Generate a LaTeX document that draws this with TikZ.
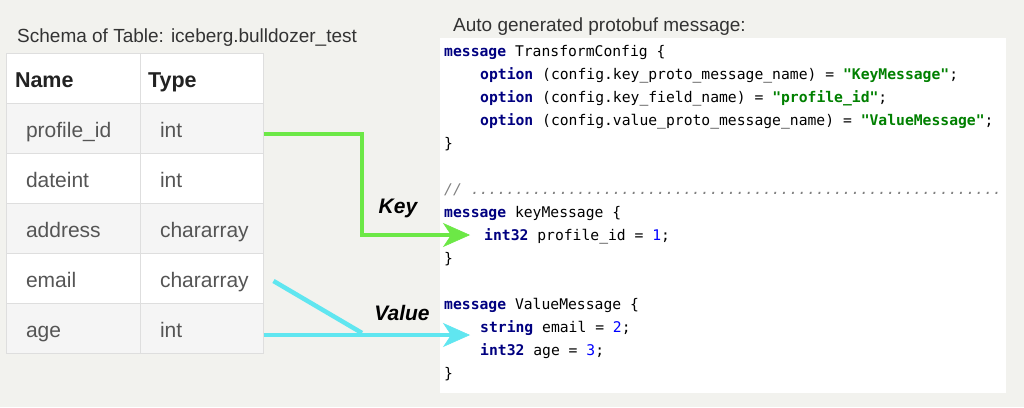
\documentclass[tikz,border=0pt]{standalone}
\usepackage{fontspec}
\setmainfont{Liberation Sans}
\newfontfamily\codefont{DejaVu Sans Mono}
\usetikzlibrary{arrows.meta}
\definecolor{pageBg}{RGB}{242,242,238}
\definecolor{gridGrey}{RGB}{222,222,222}
\definecolor{rowGrey}{RGB}{245,245,245}
\definecolor{cellText}{RGB}{85,85,85}
\definecolor{headText}{RGB}{34,34,34}
\definecolor{titleText}{RGB}{51,51,51}
\definecolor{keyGreen}{RGB}{108,232,70}
\definecolor{valueCyan}{RGB}{96,230,240}
\definecolor{kwBlue}{RGB}{0,0,128}
\definecolor{strGreen}{RGB}{0,128,0}
\definecolor{numBlue}{RGB}{0,0,255}
\definecolor{cmtGrey}{RGB}{128,128,128}
\newcommand\kw[1]{\textcolor{kwBlue}{\bfseries #1}}
\newcommand\str[1]{\textcolor{strGreen}{\bfseries #1}}
\newcommand\num[1]{\textcolor{numBlue}{#1}}

\begin{document}
\begin{tikzpicture}
[x=1pt,y=-1pt,
  cellBox/.style={shape=rectangle,draw=gridGrey,line width=1pt,minimum height=50pt,
    inner ysep=0pt,text height=20pt,text depth=2pt,align=left},
  headDecorate/.style={font=\fontsize{21.5}{25}\selectfont\bfseries,text=headText},
  bodyDecorate/.style={font=\fontsize{21}{25}\selectfont,text=cellText},
  titleDecorate/.style={anchor=base west,inner sep=0pt,font=\fontsize{19}{23}\selectfont,text=titleText},
  codeDecorate/.style={anchor=base west,inner sep=0pt,font=\fontsize{14.7}{17}\selectfont\codefont},
  labelDecorate/.style={inner sep=0pt,font=\fontsize{21}{25}\selectfont\bfseries\itshape},
  keyArrow/.style={draw=keyGreen,line width=4.5pt,
    -{Stealth[length=27pt,width=24pt,inset=8pt,line width=0.5pt]}},
  valueArrow/.style={draw=valueCyan,line width=4.5pt,
    -{Stealth[length=27pt,width=24pt,inset=8pt,line width=0.5pt]}},
  valueLine/.style={draw=valueCyan,line width=4.5pt}]
\useasboundingbox (0,0) rectangle (1024,407);
\fill[pageBg] (0,0) rectangle (1024,407);

%% schema table
\node[titleDecorate] (schemaTitle) at (17,42) {Schema of Table: iceberg.bulldozer\_test};
\node[cellBox,headDecorate,fill=white,inner xsep=9pt,text width=116pt] (nameHead) at (73,78) {Name};
\node[cellBox,headDecorate,fill=white,inner xsep=8pt,text width=107pt] (typeHead) at (201.5,78) {Type};
\foreach \rowname/\fname/\ftype/\y/\shade in {
  pid/profile\_id/int/128/rowGrey,
  date/dateint/int/178/white,
  addr/address/chararray/228/rowGrey,
  email/email/chararray/278/white,
  age/age/int/328/rowGrey}
{
  \node[cellBox,bodyDecorate,fill=\shade,inner xsep=20pt,text width=94pt] (\rowname Name) at (73,\y) {\fname};
  \node[cellBox,bodyDecorate,fill=\shade,inner xsep=20pt,text width=83pt] (\rowname Type) at (201.5,\y) {\ftype};
}

%% protobuf code
\node[titleDecorate] (protoTitle) at (453,31) {Auto generated protobuf message:};
\fill[white] (440,38) rectangle (1006,393);
\foreach \linename/\x/\k/\txt in {
  cfgHead/444/0/{\kw{message} TransformConfig \{},
  optKey/480/1/{\kw{option} (config.key\_proto\_message\_name) = \str{"KeyMessage"};},
  optField/480/2/{\kw{option} (config.key\_field\_name) = \str{"profile\_id"};},
  optValue/480/3/{\kw{option} (config.value\_proto\_message\_name) = \str{"ValueMessage"};},
  cfgEnd/444/4/{\}},
  keyHead/444/7/{\kw{message} keyMessage \{},
  keyField/484/8/{\kw{int32} profile\_id = \num{1};},
  keyEnd/444/9/{\}},
  valHead/444/11/{\kw{message} ValueMessage \{},
  valEmail/480/12/{\kw{string} email = \num{2};},
  valAge/480/13/{\kw{int32} age = \num{3};},
  valEnd/444/14/{\}}}
{
  \node[codeDecorate] (\linename) at (\x,56+23*\k) {\txt};
}
\node[codeDecorate,text=cmtGrey] (sepLine) at (444,194)
  {\itshape // ............................................................};

%% connectors
\coordinate (keyBend) at (362,235);
\coordinate (keyTip) at (470,235);
\coordinate (valueJoin) at (362,333);
\coordinate (valueTip) at (470,335);
\draw[keyArrow] ([yshift=-6pt]pidType.east) -| (keyBend) -- (keyTip);
\draw[valueLine] ([shift={(10pt,-3pt)}]emailType.east) -- (valueJoin);
\draw[valueArrow] ([yshift=-7pt]ageType.east) -- (valueTip);
\node[labelDecorate] (keyLabel) at (398,208) {Key};
\node[labelDecorate] (valueLabel) at (402,313) {Value};
\end{tikzpicture}
\end{document}
